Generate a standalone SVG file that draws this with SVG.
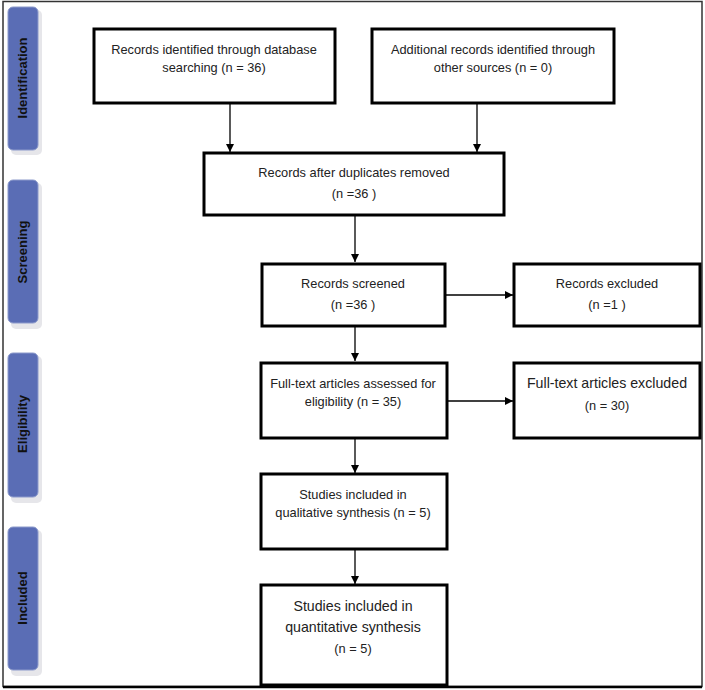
<svg xmlns="http://www.w3.org/2000/svg" width="705" height="690" viewBox="0 0 705 690">
<style>
.bg{fill:#ffffff}
.frame{fill:none;stroke:#333;stroke-width:1.5}
.tab{fill:#5a6db5;stroke:#8c9acb;stroke-width:1}
.shadow{fill:#e6e6ea}
.tabtxt{font-family:"Liberation Sans",Arial,sans-serif;font-size:13px;font-weight:bold;fill:#111;text-anchor:middle;dominant-baseline:middle}
.box{fill:#ffffff;stroke:#000;stroke-width:3}
.t{font-family:"Liberation Sans",Arial,sans-serif;font-size:12.8px;fill:#222;text-anchor:middle}
.tl{font-family:"Liberation Sans",Arial,sans-serif;font-size:14.2px;fill:#222;text-anchor:middle}
.conn{stroke:#000;stroke-width:1.3;fill:none;marker-end:url(#ah)}
</style>
<defs>
<marker id="ah" viewBox="0 0 10 10" refX="10" refY="5" markerWidth="8" markerHeight="8" markerUnits="userSpaceOnUse" orient="auto">
<path d="M0,0 L10,5 L0,10 z" fill="#000"/>
</marker>
</defs>
<rect class="bg" x="0" y="0" width="705" height="690"/>
<rect class="frame" x="3" y="1.5" width="699" height="685"/>
<line x1="3" y1="687" x2="702" y2="687" stroke="#000" stroke-width="2.5"/>

<g id="tab-identification">
<rect class="shadow" x="11" y="10" width="31" height="145" rx="5"/>
<rect class="tab" x="8" y="7" width="30" height="143" rx="5"/>
<text class="tabtxt" transform="translate(24,78) rotate(-90)">Identification</text>
</g>
<g id="tab-screening">
<rect class="shadow" x="11" y="183" width="31" height="146" rx="5"/>
<rect class="tab" x="8" y="180" width="30" height="143" rx="5"/>
<text class="tabtxt" transform="translate(24,252) rotate(-90)">Screening</text>
</g>
<g id="tab-eligibility">
<rect class="shadow" x="11" y="356" width="31" height="147" rx="5"/>
<rect class="tab" x="8" y="353" width="30" height="144" rx="5"/>
<text class="tabtxt" transform="translate(24,424) rotate(-90)">Eligibility</text>
</g>
<g id="tab-included">
<rect class="shadow" x="11" y="530" width="31" height="146" rx="5"/>
<rect class="tab" x="8" y="527" width="30" height="143" rx="5"/>
<text class="tabtxt" transform="translate(24,598) rotate(-90)">Included</text>
</g>

<g id="connectors">
<line class="conn" x1="230" y1="103" x2="230" y2="152"/>
<line class="conn" x1="477" y1="103" x2="477" y2="152"/>
<line class="conn" x1="355" y1="215" x2="355" y2="262"/>
<line class="conn" x1="445" y1="295" x2="513" y2="295"/>
<line class="conn" x1="355" y1="326" x2="355" y2="361"/>
<line class="conn" x1="447" y1="401" x2="513" y2="401"/>
<line class="conn" x1="355" y1="438" x2="355" y2="473"/>
<line class="conn" x1="355" y1="549" x2="355" y2="584"/>
</g>

<g id="n-db">
<rect class="box" x="94" y="29" width="241" height="74"/>
<text class="t" x="214" y="54">Records identified through database</text>
<text class="t" x="214" y="72">searching (n = 36)</text>
</g>
<g id="n-other">
<rect class="box" x="372" y="29" width="242" height="74"/>
<text class="t" x="493" y="54">Additional records identified through</text>
<text class="t" x="493" y="72">other sources (n = 0)</text>
</g>
<g id="n-dup">
<rect class="box" x="204" y="153" width="300" height="62"/>
<text class="t" x="354" y="177">Records after duplicates removed</text>
<text class="t" x="354" y="198">(n =36 )</text>
</g>
<g id="n-screened">
<rect class="box" x="262" y="264" width="183" height="62"/>
<text class="t" x="353" y="288">Records screened</text>
<text class="t" x="353" y="309">(n =36 )</text>
</g>
<g id="n-excl">
<rect class="box" x="514" y="264" width="186" height="62"/>
<text class="t" x="607" y="288">Records excluded</text>
<text class="t" x="607" y="309">(n =1 )</text>
</g>
<g id="n-fulltext">
<rect class="box" x="261" y="363" width="186" height="75"/>
<text class="t" x="353" y="388">Full-text articles assessed for</text>
<text class="t" x="353" y="406">eligibility (n = 35)</text>
</g>
<g id="n-ftexcl">
<rect class="box" x="514" y="363" width="186" height="75"/>
<text class="tl" x="607" y="388">Full-text articles excluded</text>
<text class="t" x="607" y="410">(n = 30)</text>
</g>
<g id="n-qual">
<rect class="box" x="261" y="474" width="186" height="75"/>
<text class="t" x="353" y="499">Studies included in</text>
<text class="t" x="353" y="517">qualitative synthesis (n = 5)</text>
</g>
<g id="n-quant">
<rect class="box" x="261" y="585" width="186" height="100"/>
<text class="tl" x="353" y="611">Studies included in</text>
<text class="tl" x="353" y="632">quantitative synthesis</text>
<text class="t" x="353" y="653">(n = 5)</text>
</g>
</svg>
